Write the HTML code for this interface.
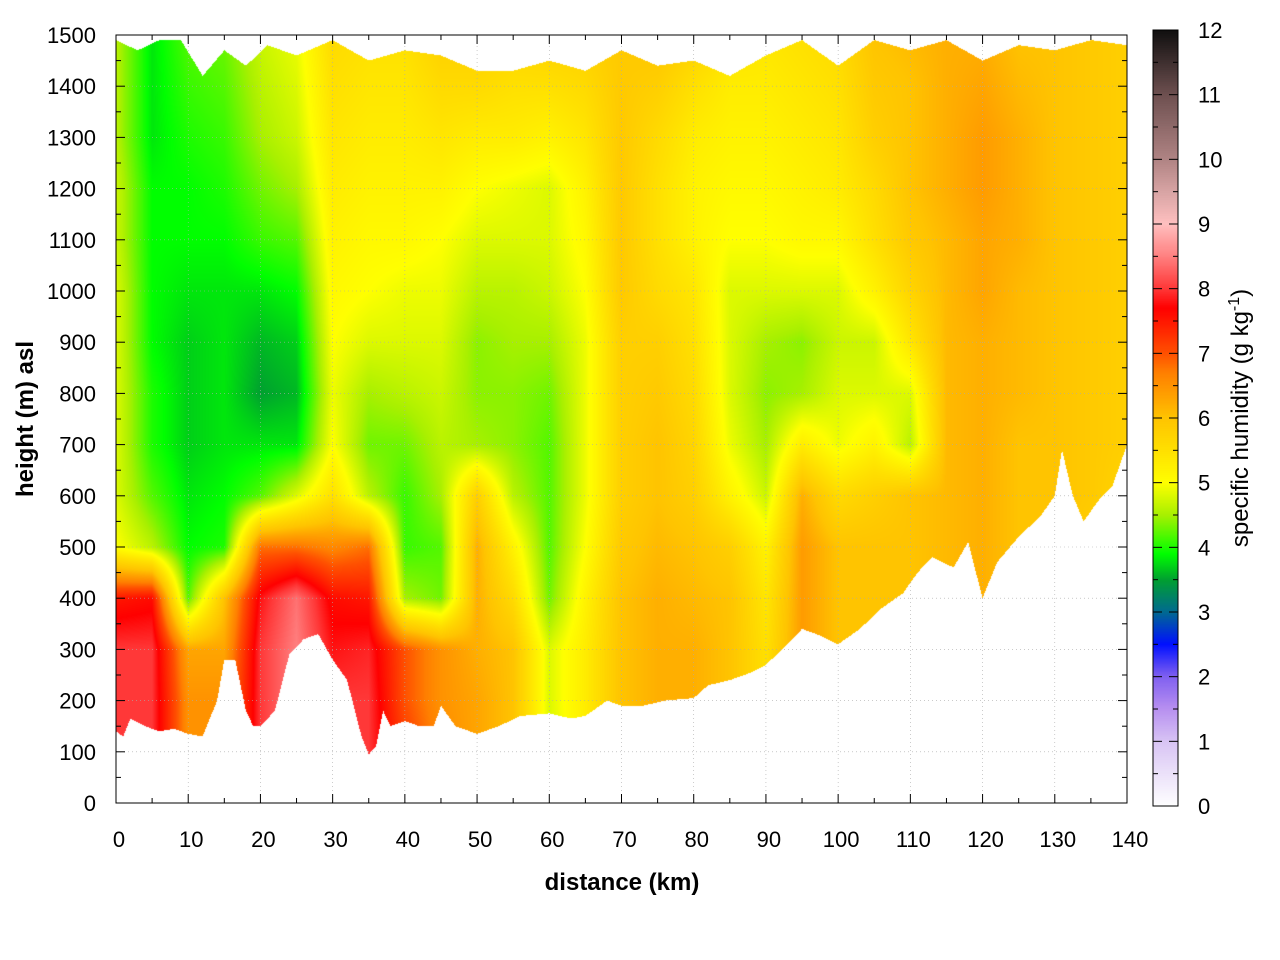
<!DOCTYPE html>
<html><head><meta charset="utf-8">
<style>
html,body{margin:0;padding:0;background:#fff;}
#wrap{position:relative;width:1280px;height:960px;font-family:"Liberation Sans",sans-serif;}
canvas{position:absolute;}
svg{position:absolute;left:0;top:0;}
</style></head>
<body>
<div id="wrap">
<canvas id="plot" width="1011" height="768" style="left:116px;top:35px"></canvas>
<canvas id="cbar" width="25" height="776" style="left:1153px;top:30px"></canvas>
<svg id="ax" width="1280" height="960"></svg>
</div>
<script>
// ---- data ----
const distances = [0,5,10,15,20,25,30,35,40,45,50,55,60,65,70,75,80,85,90,95,100,105,110,115,120,125,130,135,140];
const heights = [100,200,300,400,500,600,700,800,900,1000,1100,1200,1300,1400,1500];
const humidity = [
[8,8,8,7.5,5,4.8,4.8,4.8,4.8,4.8,4.7,4.7,4.6,4.6,4.6],
[8,8,8,7.6,4.6,4.2,4,4,3.9,3.9,3.9,3.9,3.8,3.8,3.8],
[6.5,6.5,6.3,4.2,3.9,3.8,3.7,3.7,3.7,3.8,3.9,3.9,4,4.1,4.2],
[6.5,6.5,6.3,6,4,3.9,3.8,3.8,3.8,3.8,3.9,4,4.1,4.2,4.3],
[8,8,8,7.8,6.8,4.2,3.8,3.5,3.6,3.8,4.1,4.3,4.5,4.6,4.7],
[8.5,8.5,8.5,8.4,6.8,4.8,3.8,3.6,3.7,3.9,4.2,4.5,4.7,4.8,4.9],
[8,8,7.8,7.6,6.6,5.5,5,4.9,5,5.1,5.2,5.3,5.4,5.5,5.6],
[8,8,7.9,7.5,6.8,4.6,4.3,4.5,4.8,5,5.1,5.2,5.3,5.4,5.5],
[7.2,7,7,4.5,4.1,4.1,4.3,4.6,4.8,4.9,5.1,5.2,5.3,5.4,5.5],
[6.6,6.5,6.5,4.3,4.2,4.5,4.6,4.7,4.8,4.9,5,5.2,5.4,5.6,5.8],
[6.3,6.3,6.2,6.2,6.2,5.8,4.5,4.4,4.4,4.6,4.8,5,5.3,5.6,5.8],
[6,6,6,5.6,5.2,4.6,4.4,4.4,4.5,4.6,4.8,4.9,5.3,5.5,5.7],
[4.8,4.8,4.8,4.3,4.2,4.2,4.2,4.3,4.5,4.7,4.8,4.8,5.2,5.5,5.8],
[5.2,5.3,5.3,5.2,5,4.9,4.9,4.9,4.9,5,5.1,5.2,5.4,5.6,5.8],
[6,6,6,6,5.9,5.8,5.8,5.8,5.8,5.9,5.9,5.9,5.9,5.9,5.9],
[6.2,6.2,6.2,6.2,6.1,6,6,5.9,5.8,5.6,5.5,5.5,5.6,5.8,6],
[6.2,6.2,6.2,6.1,6,5.8,5.7,5.6,5.5,5.4,5.2,5.2,5.3,5.5,5.8],
[6,6,6,6,5.8,5.2,4.9,4.8,4.8,4.8,5,5.1,5.2,5.3,5.5],
[5.5,5.5,5.5,5.4,5.2,4.7,4.5,4.4,4.5,4.8,5,5.1,5.2,5.3,5.4],
[6.4,6.4,6.4,6.4,6.4,6.2,5.3,4.5,4.4,4.8,5.1,5.2,5.3,5.4,5.5],
[6,6,6,6,6,5.6,4.9,4.8,4.7,4.8,5.1,5.3,5.4,5.5,5.6],
[6,6,6,6,6,5.8,5.2,4.8,4.7,5.2,5.5,5.6,5.8,5.9,6],
[6,6,6,6,6,6,4.6,4.8,5.4,5.7,5.9,6,6,6,6.1],
[6.1,6.1,6.1,6.1,6.1,6.1,6.1,6.1,6.1,6.1,6.1,6.2,6.2,6.2,6.2],
[6.2,6.2,6.2,6.2,6.2,6.2,6.2,6.2,6.2,6.3,6.3,6.4,6.4,6.3,6.2],
[6,6,6,6,6,6,6,6.1,6.1,6.1,6.2,6.2,6.2,6.1,6],
[6,6,6,6,6,6,6,6,6,6,6,6,6,6,6],
[5.8,5.8,5.8,5.8,5.8,5.9,5.9,5.9,5.9,5.9,5.9,5.9,5.9,5.9,5.9],
[5.7,5.7,5.7,5.7,5.7,5.7,5.8,5.8,5.8,5.8,5.8,5.8,5.8,5.8,5.8]
];
const groundDist = [0,1,2,4,6,8,10,12,14,15,16.5,18,19,20,22,24,26,28,30,32,34,35,36,37,38,40,42,44,45,47,50,53,56,60,63,65,68,70,73,76,80,82,85,88,90,93,95,97,100,103,106,109,111,113,116,118,120,122,125,128,130,131,132.5,134,136,138,140];
const groundH   = [140,130,165,150,140,145,135,130,200,280,280,180,150,150,180,290,320,330,280,240,130,95,110,180,150,160,150,150,190,150,135,150,170,175,165,170,200,190,190,200,205,230,240,255,270,310,340,330,310,340,380,410,450,480,460,510,400,470,520,560,600,690,600,550,590,620,700];
const topDist = [0,3,6,9,12,15,18,21,25,30,35,40,45,50,55,60,65,70,75,80,85,90,95,100,105,110,115,120,125,130,135,140];
const topH    = [1490,1470,1490,1490,1420,1470,1440,1480,1460,1490,1450,1470,1460,1430,1430,1450,1430,1470,1440,1450,1420,1460,1490,1440,1490,1470,1490,1450,1480,1470,1490,1480];
const cbStops = [0,1,1.5,2,2.5,3,3.5,3.9,4.5,5,5.5,6,6.3,6.7,7,7.7,8,8.5,9,9.5,10,11,12];
const cbColors = ["#ffffff","#d8c4f4","#b890f0","#8060f0","#0010ff","#006a90","#00a030","#00ff00","#a8f000","#ffff00","#ffe000","#ffc400","#ffa500","#ff8000","#ff5000","#ff0000","#ff3838","#ff8080","#ffc0c0","#d8a4a4","#b08484","#6e5050","#101010"];
const xTicks = [0,10,20,30,40,50,60,70,80,90,100,110,120,130,140];
const yTicks = [0,100,200,300,400,500,600,700,800,900,1000,1100,1200,1300,1400,1500];
const cbTicks = [0,1,2,3,4,5,6,7,8,9,10,11,12];

// ---- scales ----
const X0=116,X1=1127,Y0=803,Y1=35;
const xs=d=>X0+d*(X1-X0)/140;
const ys=h=>Y0-h*(Y0-Y1)/1500;
const CB0=806,CB1=30;
const cs=v=>CB0-v*(CB0-CB1)/12;

function hex(c){return [parseInt(c.substr(1,2),16),parseInt(c.substr(3,2),16),parseInt(c.substr(5,2),16)];}
const rgbs=cbColors.map(hex);
function cmap(v){
  if(v<=cbStops[0])return rgbs[0];
  for(let i=1;i<cbStops.length;i++){if(v<=cbStops[i]){const t=(v-cbStops[i-1])/(cbStops[i]-cbStops[i-1]);const a=rgbs[i-1],b=rgbs[i];return [a[0]+(b[0]-a[0])*t,a[1]+(b[1]-a[1])*t,a[2]+(b[2]-a[2])*t];}}
  return rgbs[rgbs.length-1];
}
function interp1(xa,ya,x){
  if(x<=xa[0])return ya[0];
  for(let i=1;i<xa.length;i++){if(x<=xa[i]){const t=(x-xa[i-1])/(xa[i]-xa[i-1]);return ya[i-1]+(ya[i]-ya[i-1])*t;}}
  return ya[ya.length-1];
}
function val(d,h){
  let fi=d/5; fi=Math.max(0,Math.min(distances.length-1.0001,fi));
  const i=Math.floor(fi),tx=fi-i;
  let fj=(h-heights[0])/100; fj=Math.max(0,Math.min(heights.length-1.0001,fj));
  const j=Math.floor(fj),ty=fj-j;
  const a=humidity[i][j],b=humidity[i+1][j],c=humidity[i][j+1],e=humidity[i+1][j+1];
  return (a*(1-tx)+b*tx)*(1-ty)+(c*(1-tx)+e*tx)*ty;
}
// heatmap
(function(){
  const cv=document.getElementById('plot'),ctx=cv.getContext('2d');
  const W=cv.width,H=cv.height,img=ctx.createImageData(W,H);
  for(let px=0;px<W;px++){
    const d=(px+0.5)*140/W;
    const g=interp1(groundDist,groundH,d),t=interp1(topDist,topH,d);
    for(let py=0;py<H;py++){
      const h=1500-(py+0.5)*1500/H;
      const k=(py*W+px)*4;
      if(h<g||h>t){img.data[k]=255;img.data[k+1]=255;img.data[k+2]=255;img.data[k+3]=255;continue;}
      const c=cmap(val(d,h));
      img.data[k]=c[0];img.data[k+1]=c[1];img.data[k+2]=c[2];img.data[k+3]=255;
    }
  }
  ctx.putImageData(img,0,0);
  const cb=document.getElementById('cbar'),c2=cb.getContext('2d');
  for(let py=0;py<cb.height;py++){
    const v=12-(py+0.5)*12/cb.height;const c=cmap(v);
    c2.fillStyle='rgb('+Math.round(c[0])+','+Math.round(c[1])+','+Math.round(c[2])+')';
    c2.fillRect(0,py,cb.width,1);
  }
})();
// axes
(function(){
  const svg=document.getElementById('ax');const NS='http://www.w3.org/2000/svg';
  function mk(tag,attrs,parent){const e=document.createElementNS(NS,tag);for(const k in attrs)e.setAttribute(k,attrs[k]);(parent||svg).appendChild(e);return e;}
  const grid=mk('g',{stroke:'#aaa','stroke-width':0.6,'stroke-dasharray':'1,3'});
  
  
  xTicks.forEach(v=>{if(v>0&&v<140)mk('line',{x1:xs(v),x2:xs(v),y1:Y0,y2:Y1},grid);});
  yTicks.forEach(v=>{if(v>0&&v<1500)mk('line',{x1:X0,x2:X1,y1:ys(v),y2:ys(v)},grid);});
  const tk=mk('g',{stroke:'#000','stroke-width':1});
  for(let v=0;v<=140;v+=5){const L=v%10==0?9:5;mk('line',{x1:xs(v),x2:xs(v),y1:Y0,y2:Y0-L},tk);mk('line',{x1:xs(v),x2:xs(v),y1:Y1,y2:Y1+L},tk);}
  for(let v=0;v<=1500;v+=50){const L=v%100==0?9:5;mk('line',{x1:X0,x2:X0+L,y1:ys(v),y2:ys(v)},tk);mk('line',{x1:X1,x2:X1-L,y1:ys(v),y2:ys(v)},tk);}
  const fr=mk('rect',{x:X0,y:Y1,width:X1-X0,height:Y0-Y1,fill:'none',stroke:'#000','stroke-width':1});
  
  
  xTicks.forEach(v=>{const t=mk('text',{x:xs(v)+3,y:847,'text-anchor':'middle','font-size':22});t.textContent=v;
    
    });
  yTicks.forEach(v=>{const t=mk('text',{x:96,y:ys(v)+8,'text-anchor':'end','font-size':22});t.textContent=v;
    
    });
  let t=mk('text',{x:622,y:890,'text-anchor':'middle','font-size':24,'font-weight':'bold'});t.textContent='distance (km)';
  
  
  t=mk('text',{x:0,y:0,'text-anchor':'middle','font-size':24,'font-weight':'bold',transform:'translate(33,419) rotate(-90)'});t.textContent='height (m) asl';
  
  
  // colorbar
  const cbx0=1153,cbx1=1178;
  mk('rect',{x:cbx0,y:CB1,width:cbx1-cbx0,height:CB0-CB1,fill:'none',stroke:'#000','stroke-width':1});
  for(let v=0;v<=12;v+=0.5){const L=v%1==0?9:5;mk('line',{x1:cbx0,x2:cbx0+L,y1:cs(v),y2:cs(v),stroke:'#000'});mk('line',{x1:cbx1,x2:cbx1-L,y1:cs(v),y2:cs(v),stroke:'#000'});}
  cbTicks.forEach(v=>{const t=mk('text',{x:1198,y:cs(v)+8,'font-size':22});t.textContent=v;
    
    });
  t=mk('text',{x:0,y:0,'text-anchor':'middle','font-size':24,transform:'translate(1248,418) rotate(-90)'});
  t.innerHTML='specific humidity (g kg<tspan dy="-9" font-size="16">-1</tspan><tspan dy="9">)</tspan>';
  
  
})();
</script>
</body></html>
